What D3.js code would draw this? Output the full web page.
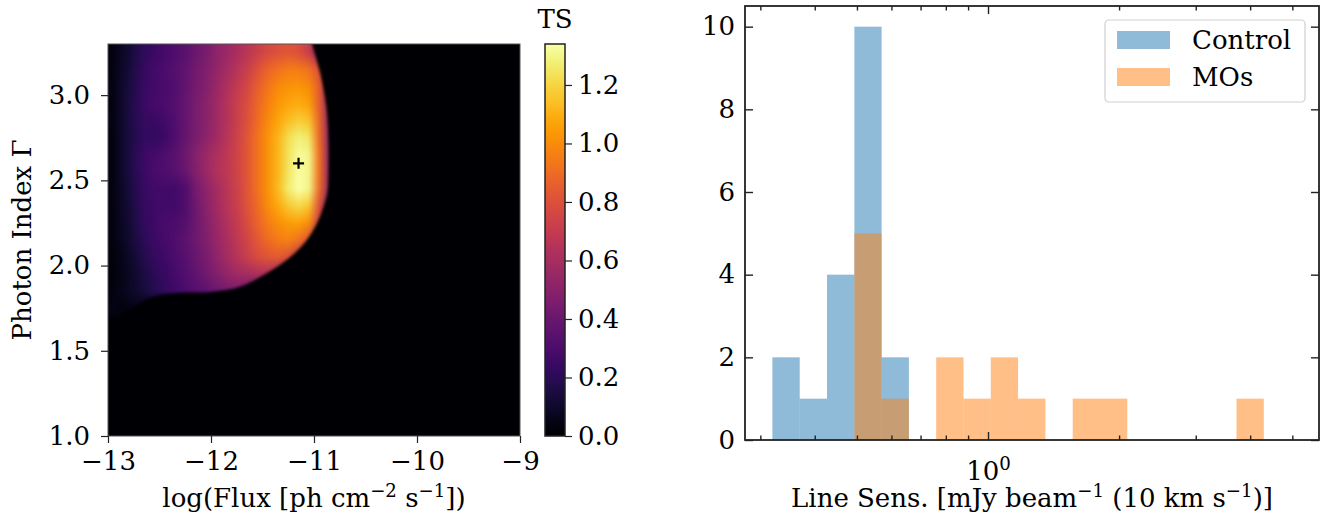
<!DOCTYPE html>
<html>
<head>
<meta charset="utf-8">
<script src="https://cdn.jsdelivr.net/npm/d3@7"></script>
<style>
  body { margin: 0; background: #fff; }
  svg { display: block; }
  text { font-family: "DejaVu Serif", serif; fill: #000; }
</style>
</head>
<body>
<svg id="fig" width="1328" height="521"></svg>
<script>
// ---------------- TS map (flux x photon index) ----------------
const fluxCenters = [-12.95, -12.85, -12.75, -12.65, -12.55, -12.45, -12.35, -12.25, -12.15, -12.05,
                     -11.95, -11.85, -11.75, -11.65, -11.55, -11.45, -11.35, -11.25, -11.15, -11.05,
                     -10.95, -10.85, -10.75];
const indexCenters = [3.25, 3.15, 3.05, 2.95, 2.85, 2.75, 2.65, 2.55, 2.45, 2.35, 2.25, 2.15, 2.05, 1.95, 1.85, 1.75, 1.65];
// one row per photon-index bin (top to bottom), one value per flux bin
const tsRows = [
  [0.04,0.09,0.15,0.21,0.25,0.28,0.31,0.35,0.40,0.45,0.51,0.56,0.61,0.66,0.72,0.77,0.80,0.82,0.80,0.72,0.50,0.20,0],
  [0.04,0.10,0.16,0.23,0.27,0.30,0.33,0.37,0.42,0.47,0.53,0.59,0.65,0.72,0.80,0.87,0.92,0.95,0.95,0.92,0.80,0.40,0],
  [0.05,0.11,0.17,0.24,0.27,0.29,0.32,0.37,0.43,0.48,0.55,0.62,0.69,0.76,0.85,0.93,0.99,1.02,1.03,1.00,0.85,0.45,0],
  [0.04,0.11,0.18,0.25,0.28,0.30,0.33,0.38,0.44,0.50,0.57,0.64,0.72,0.79,0.88,0.96,1.03,1.07,1.09,1.06,0.85,0.50,0],
  [0.05,0.12,0.18,0.23,0.24,0.27,0.32,0.38,0.44,0.50,0.57,0.64,0.72,0.80,0.90,0.99,1.07,1.14,1.18,1.15,0.88,0.50,0],
  [0.04,0.11,0.17,0.22,0.22,0.25,0.31,0.38,0.45,0.51,0.58,0.65,0.73,0.82,0.92,1.02,1.11,1.22,1.28,1.25,0.90,0.50,0],
  [0.04,0.11,0.18,0.25,0.28,0.31,0.35,0.41,0.49,0.56,0.62,0.67,0.74,0.82,0.92,1.02,1.12,1.24,1.32,1.30,0.92,0.50,0],
  [0.04,0.11,0.18,0.25,0.29,0.31,0.34,0.39,0.48,0.56,0.63,0.68,0.74,0.82,0.92,1.02,1.12,1.25,1.33,1.30,0.92,0.50,0],
  [0.04,0.10,0.17,0.24,0.27,0.27,0.27,0.31,0.43,0.51,0.59,0.66,0.73,0.82,0.92,1.02,1.13,1.27,1.34,1.30,0.90,0.50,0],
  [0.04,0.10,0.16,0.23,0.26,0.27,0.27,0.31,0.41,0.50,0.58,0.65,0.72,0.81,0.90,1.00,1.08,1.17,1.21,1.16,0.80,0.40,0],
  [0.04,0.09,0.15,0.22,0.26,0.29,0.30,0.33,0.40,0.48,0.56,0.63,0.70,0.78,0.87,0.95,1.01,1.05,1.06,1.00,0.70,0.30,0],
  [0.04,0.08,0.14,0.20,0.25,0.28,0.31,0.36,0.41,0.47,0.54,0.61,0.68,0.75,0.83,0.90,0.95,0.97,0.92,0.80,0.40,0.10,0],
  [0.03,0.07,0.12,0.18,0.23,0.26,0.30,0.34,0.39,0.45,0.52,0.59,0.65,0.72,0.78,0.82,0.84,0.80,0.65,0.30,0,0,0],
  [0.02,0.06,0.10,0.15,0.20,0.24,0.28,0.32,0.37,0.42,0.48,0.53,0.58,0.60,0.62,0.62,0.55,0.30,0.05,0,0,0,0],
  [0.04,0.07,0.10,0.14,0.18,0.22,0.26,0.30,0.33,0.36,0.40,0.44,0.46,0.40,0.30,0.10,0,0,0,0,0,0,0],
  [0.05,0.03,0.06,0.04,0.06,0.05,0.08,0.10,0.12,0.12,0.14,0.15,0.12,0.05,0,0,0,0,0,0,0,0,0],
  [0.03,0.01,0.03,0.01,0.02,0,0,0,0,0,0,0,0,0,0,0,0,0,0,0,0,0,0]
];
// outline of the region where the likelihood fit returns a signal (top right, clockwise)
const edgeFlux  = [-11.02, -10.94, -10.88, -10.86, -10.86, -10.87, -10.91, -10.97, -11.07, -11.23,
                   -11.46, -11.72, -12.00, -12.30, -12.55, -12.75, -12.90];
const edgeIndex = [3.30, 3.13, 2.93, 2.74, 2.54, 2.43, 2.34, 2.25, 2.15, 2.05,
                   1.955, 1.875, 1.845, 1.84, 1.82, 1.76, 1.70];
const bestFit = { flux: -11.15, index: 2.6 };
const fluxTicks = [-13, -12, -11, -10, -9];
const indexTicks = [1.0, 1.5, 2.0, 2.5, 3.0];
const tsTicks = [0.0, 0.2, 0.4, 0.6, 0.8, 1.0, 1.2];
const tsMax = 1.34;

// ---------------- Line sensitivity histogram ----------------
const binEdges = [0.3197, 0.3694, 0.4268, 0.4932, 0.5696, 0.6581, 0.7603, 0.8785, 1.0148, 1.1724,
                  1.3546, 1.5650, 1.8077, 2.0888, 2.4134, 2.7882, 3.2211, 3.7214, 4.2993];
const controlCounts = [2, 1, 4, 10, 2, 0, 0, 0, 0, 0, 0, 0, 0, 0, 0, 0, 0, 0];
const mosCounts     = [0, 0, 0, 5, 1, 0, 2, 1, 2, 1, 0, 1, 1, 0, 0, 0, 0, 1];
const seriesNames = ["Control", "MOs"];
const seriesColors = ["#1f77b4", "#ff7f0e"];
const countTicks = [0, 2, 4, 6, 8, 10];
const majorSensTicks = [1];
const minorSensTicks = [0.3, 0.4, 0.5, 0.6, 0.7, 0.8, 0.9, 2, 3, 4, 5];

const FS = 26;
const svg = d3.select("#fig");
const defs = svg.append("defs");

// ===== Left panel: TS map =====
const L = { x0: 108, x1: 520, y0: 44, y1: 436 };
const xF = d3.scaleLinear().domain([-13, -9]).range([L.x0, L.x1]);
const yG = d3.scaleLinear().domain([1.0, 3.3]).range([L.y1, L.y0]);
const color = d3.scaleSequential(d3.interpolateInferno).domain([0, tsMax]);

defs.append("clipPath").attr("id", "mapClip")
  .append("rect").attr("x", L.x0).attr("y", L.y0)
  .attr("width", L.x1 - L.x0).attr("height", L.y1 - L.y0);

// region outline: smooth curve through the edge points, closed off outside the panel
const fD = xF.domain(), gD = yG.domain();
const outX = fD[0] - 0.1, outTop = gD[1] + 0.1;
const edgeLine = d3.line().x(d => xF(d[0])).y(d => yG(d[1])).curve(d3.curveCatmullRom);
const edgePts = edgeFlux.map((f, i) => [f, edgeIndex[i]]);
const regionPath = `M${xF(outX)},${yG(outTop)}L${xF(edgeFlux[0])},${yG(outTop)}` +
  edgeLine(edgePts).replace(/^M/, "L") +
  `L${xF(outX)},${yG(edgeIndex[edgeIndex.length - 1])}Z`;
defs.append("clipPath").attr("id", "regionClip").append("path").attr("d", regionPath);

// slight softening of the map; alpha is restored so the panel edges keep their colour
const smooth = defs.append("filter").attr("id", "smooth")
  .attr("filterUnits", "userSpaceOnUse")
  .attr("x", 0).attr("y", 0).attr("width", 700).attr("height", 521)
  .attr("color-interpolation-filters", "sRGB");
smooth.append("feGaussianBlur").attr("stdDeviation", "1.6 1.8");
smooth.append("feComponentTransfer")
  .append("feFuncA").attr("type", "table").attr("tableValues", "1 1");

const mapG = svg.append("g").attr("clip-path", "url(#mapClip)")
  .append("g").attr("filter", "url(#smooth)");
mapG.append("rect").attr("x", L.x0).attr("y", L.y0)
  .attr("width", L.x1 - L.x0).attr("height", L.y1 - L.y0)
  .attr("fill", color(0));

// grid -> one pixel per cell, then resampled (bilinear) to the cell extent on screen
const nx = fluxCenters.length, ny = indexCenters.length;
const dF = (fluxCenters[1] - fluxCenters[0]) / 2;
const dG = Math.abs(indexCenters[0] - indexCenters[1]) / 2;
const cv = document.createElement("canvas");
cv.width = nx; cv.height = ny;
const ctx = cv.getContext("2d");
const img = ctx.createImageData(nx, ny);
tsRows.forEach((row, i) => row.forEach((v, j) => {
  const c = d3.rgb(color(v)), k = (i * nx + j) * 4;
  img.data[k] = c.r; img.data[k + 1] = c.g; img.data[k + 2] = c.b; img.data[k + 3] = 255;
}));
ctx.putImageData(img, 0, 0);
const gx0 = xF(fluxCenters[0] - dF), gx1 = xF(fluxCenters[nx - 1] + dF);
const gy0 = yG(indexCenters[0] + dG), gy1 = yG(indexCenters[ny - 1] - dG);
const big = document.createElement("canvas");
big.width = Math.round(gx1 - gx0); big.height = Math.round(gy1 - gy0);
const bctx = big.getContext("2d");
bctx.imageSmoothingEnabled = true;
bctx.imageSmoothingQuality = "medium";
bctx.drawImage(cv, 0, 0, big.width, big.height);
mapG.append("image")
  .attr("href", big.toDataURL())
  .attr("x", gx0).attr("y", gy0)
  .attr("width", gx1 - gx0).attr("height", gy1 - gy0)
  .attr("preserveAspectRatio", "none")
  .attr("clip-path", "url(#regionClip)");

// best-fit marker
const mx = xF(bestFit.flux), my = yG(bestFit.index);
svg.append("path")
  .attr("d", `M${mx - 5.5},${my}H${mx + 5.5}M${mx},${my - 5.5}V${my + 5.5}`)
  .attr("stroke", "#000").attr("stroke-width", 2.2).attr("fill", "none");

svg.append("rect").attr("x", L.x0).attr("y", L.y0)
  .attr("width", L.x1 - L.x0).attr("height", L.y1 - L.y0)
  .attr("fill", "none").attr("stroke", "#555").attr("stroke-width", 1);

const minus = s => s.replace("-", "\u2212");
const axL = svg.append("g").attr("transform", `translate(${L.x0},0)`)
  .call(d3.axisLeft(yG).tickValues(indexTicks).tickFormat(d3.format(".1f"))
    .tickSize(7).tickPadding(11).tickSizeOuter(0));
const axB = svg.append("g").attr("transform", `translate(0,${L.y1})`)
  .call(d3.axisBottom(xF).tickValues(fluxTicks).tickFormat(d => minus(String(d)))
    .tickSize(7).tickPadding(9).tickSizeOuter(0));
[axL, axB].forEach(a => {
  a.select(".domain").remove();
  a.selectAll(".tick line").attr("stroke", "#222").attr("stroke-width", 1.2);
  a.selectAll(".tick text").attr("font-size", FS).attr("font-family", "DejaVu Serif");
});

svg.append("text").attr("transform", `translate(22,${(L.y0 + L.y1) / 2}) rotate(-90)`)
  .attr("text-anchor", "middle").attr("dy", "0.35em").attr("font-size", FS)
  .text("Photon Index \u0393");

const xl = svg.append("text").attr("x", (L.x0 + L.x1) / 2).attr("y", 507)
  .attr("text-anchor", "middle").attr("font-size", FS);
xl.append("tspan").text("log(Flux [ph cm");
xl.append("tspan").attr("baseline-shift", "super").attr("font-size", FS * 0.7).text("\u22122");
xl.append("tspan").text(" s");
xl.append("tspan").attr("baseline-shift", "super").attr("font-size", FS * 0.7).text("\u22121");
xl.append("tspan").text("])");

// ===== Colorbar =====
const C = { x0: 545, x1: 565, y0: 44, y1: 436 };
const yC = d3.scaleLinear().domain([0, tsMax]).range([C.y1, C.y0]);
const grad = defs.append("linearGradient").attr("id", "tsGrad")
  .attr("x1", 0).attr("y1", 1).attr("x2", 0).attr("y2", 0);
d3.range(0, 1.0001, 0.02).forEach(t =>
  grad.append("stop").attr("offset", t).attr("stop-color", color(t * tsMax)));
svg.append("rect").attr("x", C.x0).attr("y", C.y0)
  .attr("width", C.x1 - C.x0).attr("height", C.y1 - C.y0)
  .attr("fill", "url(#tsGrad)").attr("stroke", "#222").attr("stroke-width", 1.5);
const axC = svg.append("g").attr("transform", `translate(${C.x1},0)`)
  .call(d3.axisRight(yC).tickValues(tsTicks).tickFormat(d3.format(".1f"))
    .tickSize(7).tickPadding(6).tickSizeOuter(0));
axC.select(".domain").remove();
axC.selectAll(".tick line").attr("stroke", "#222").attr("stroke-width", 1.2);
axC.selectAll(".tick text").attr("font-size", FS).attr("font-family", "DejaVu Serif");
svg.append("text").attr("x", (C.x0 + C.x1) / 2).attr("y", 28)
  .attr("text-anchor", "middle").attr("font-size", FS).text("TS");

// ===== Right panel: histogram =====
const R = { x0: 745, x1: 1319, y0: 6, y1: 440 };
const xS = d3.scaleLog().domain([0.2766, 5.757]).range([R.x0, R.x1]);
const yN = d3.scaleLinear().domain([0, 10.5]).range([R.y1, R.y0]);

const bins = (counts) => counts.map((c, i) => ({ x0: binEdges[i], x1: binEdges[i + 1], n: c }))
  .filter(b => b.n > 0);
[controlCounts, mosCounts].forEach((counts, k) => {
  svg.append("g").selectAll("rect").data(bins(counts)).join("rect")
    .attr("x", d => xS(d.x0))
    .attr("y", d => yN(d.n))
    .attr("width", d => xS(d.x1) - xS(d.x0))
    .attr("height", d => yN(0) - yN(d.n))
    .attr("fill", seriesColors[k]).attr("fill-opacity", 0.5);
});

function styleTicks(a) {
  a.select(".domain").remove();
  a.selectAll(".tick line").attr("stroke", "#222").attr("stroke-width", 1.4);
  a.selectAll(".tick text").attr("font-size", FS).attr("font-family", "DejaVu Serif");
}
const supFmt = (sel) => sel.each(function (d) {
  const t = d3.select(this).text("");
  t.append("tspan").text("10");
  t.append("tspan").attr("baseline-shift", "super").attr("font-size", FS * 0.7)
    .text(String(Math.round(Math.log10(d))));
});
// bottom major / minor
const rb = svg.append("g").attr("transform", `translate(0,${R.y1})`)
  .call(d3.axisBottom(xS).tickValues(majorSensTicks).tickSize(-8).tickPadding(15).tickSizeOuter(0));
styleTicks(rb);
rb.selectAll(".tick text").call(supFmt).attr("dy", "0.95em");
const rbm = svg.append("g").attr("transform", `translate(0,${R.y1})`)
  .call(d3.axisBottom(xS).tickValues(minorSensTicks).tickSize(-4.5).tickFormat("").tickSizeOuter(0));
styleTicks(rbm);
// top mirrored ticks
const rt = svg.append("g").attr("transform", `translate(0,${R.y0})`)
  .call(d3.axisTop(xS).tickValues(majorSensTicks).tickSize(-8).tickFormat("").tickSizeOuter(0));
styleTicks(rt);
const rtm = svg.append("g").attr("transform", `translate(0,${R.y0})`)
  .call(d3.axisTop(xS).tickValues(minorSensTicks).tickSize(-4.5).tickFormat("").tickSizeOuter(0));
styleTicks(rtm);
// left / right count ticks
const rl = svg.append("g").attr("transform", `translate(${R.x0},0)`)
  .call(d3.axisLeft(yN).tickValues(countTicks).tickSize(-8).tickPadding(10).tickSizeOuter(0));
styleTicks(rl);
const rr = svg.append("g").attr("transform", `translate(${R.x1},0)`)
  .call(d3.axisRight(yN).tickValues(countTicks).tickSize(-8).tickFormat("").tickSizeOuter(0));
styleTicks(rr);

svg.append("rect").attr("x", R.x0).attr("y", R.y0)
  .attr("width", R.x1 - R.x0).attr("height", R.y1 - R.y0)
  .attr("fill", "none").attr("stroke", "#222").attr("stroke-width", 1.8);

const xr = svg.append("text").attr("x", (R.x0 + R.x1) / 2).attr("y", 507)
  .attr("text-anchor", "middle").attr("font-size", FS);
xr.append("tspan").text("Line Sens. [mJy beam");
xr.append("tspan").attr("baseline-shift", "super").attr("font-size", FS * 0.7).text("\u22121");
xr.append("tspan").text(" (10 km s");
xr.append("tspan").attr("baseline-shift", "super").attr("font-size", FS * 0.7).text("\u22121");
xr.append("tspan").text(")]");

// legend
const lg = svg.append("g").attr("transform", "translate(1105,20)");
lg.append("rect").attr("width", 200).attr("height", 82).attr("rx", 4)
  .attr("fill", "#fff").attr("fill-opacity", 0.8)
  .attr("stroke", "#d0d0d0").attr("stroke-width", 1.2);
const items = lg.selectAll("g.item").data(seriesNames).join("g")
  .attr("transform", (d, i) => `translate(12,${11 + i * 37})`);
items.append("rect").attr("width", 53).attr("height", 18)
  .attr("fill", (d, i) => seriesColors[i]).attr("fill-opacity", 0.5);
items.append("text").attr("x", 75).attr("y", 9).attr("dy", "0.35em")
  .attr("font-size", FS).text(d => d);
</script>
</body>
</html>
